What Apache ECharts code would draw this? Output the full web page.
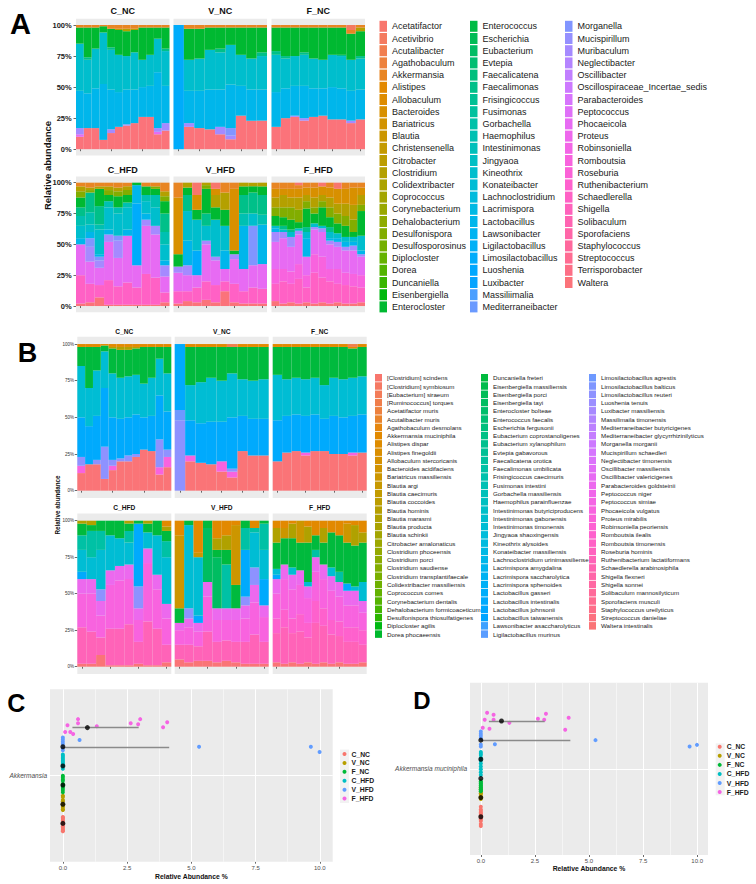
<!DOCTYPE html>
<html>
<head>
    <meta charset="utf-8">
    <title>Gut microbiota composition and Akkermansia abundance</title>
    <script src="https://cdn.jsdelivr.net/npm/echarts@6.0.0/dist/echarts.min.js"></script>
    <style>
        html, body { margin: 0; padding: 0; background: #fff; }
    </style>
</head>
<body>
    <div id="main" style="width: 756px; height: 884px;"></div>
    <script>
        var FONT = '"Liberation Sans", Arial, sans-serif';

        // ---- categories ----
        var groups = ['C_NC', 'V_NC', 'F_NC', 'C_HFD', 'V_HFD', 'F_HFD'];

        var taxaA = ['Acetatifactor', 'Acetivibrio', 'Acutalibacter', 'Agathobaculum', 'Akkermansia', 'Alistipes',
            'Allobaculum', 'Bacteroides', 'Bariatricus', 'Blautia', 'Christensenella', 'Citrobacter', 'Clostridium',
            'Colidextribacter', 'Coprococcus', 'Corynebacterium', 'Dehalobacterium', 'Desulfonispora',
            'Desulfosporosinus', 'Diplocloster', 'Dorea', 'Duncaniella', 'Eisenbergiella', 'Enterocloster',
            'Enterococcus', 'Escherichia', 'Eubacterium', 'Evtepia', 'Faecalicatena', 'Faecalimonas', 'Frisingicoccus',
            'Fusimonas', 'Gorbachella', 'Haemophilus', 'Intestinimonas', 'Jingyaoa', 'Kineothrix', 'Konateibacter',
            'Lachnoclostridium', 'Lacrimispora', 'Lactobacillus', 'Lawsonibacter', 'Ligilactobacillus',
            'Limosilactobacillus', 'Luoshenia', 'Luxibacter', 'Massiliimalia', 'Mediterraneibacter',
            'Morganella', 'Mucispirillum', 'Muribaculum', 'Neglectibacter', 'Oscillibacter',
            'Oscillospiraceae_Incertae_sedis', 'Parabacteroides', 'Peptococcus', 'Phocaeicola', 'Proteus',
            'Robinsoniella', 'Romboutsia', 'Roseburia', 'Ruthenibacterium', 'Schaedlerella', 'Shigella',
            'Solibaculum', 'Sporofaciens', 'Staphylococcus', 'Streptococcus', 'Terrisporobacter', 'Waltera'];

        var taxaB = ['[Clostridium] scindens', '[Clostridium] symbiosum', '[Eubacterium] siraeum',
            '[Ruminococcus] torques', 'Acetatifactor muris', 'Acutalibacter muris', 'Agathobaculum desmolans',
            'Akkermansia muciniphila', 'Alistipes dispar', 'Alistipes finegoldii', 'Allobaculum stercoricanis',
            'Bacteroides acidifaciens', 'Bariatricus massiliensis', 'Blautia argi', 'Blautia caecimuris',
            'Blautia coccoides', 'Blautia hominis', 'Blautia marasmi', 'Blautia producta', 'Blautia schinkii',
            'Citrobacter amalonaticus', 'Clostridium phoceensis', 'Clostridium porci', 'Clostridium saudiense',
            'Clostridium transplantifaecale', 'Colidextribacter massiliensis', 'Coprococcus comes',
            'Corynebacterium dentalis', 'Dehalobacterium formicoaceticum', 'Desulfonispora thiosulfatigenes',
            'Diplocloster agilis', 'Dorea phocaeensis',
            'Duncaniella freteri', 'Eisenbergiella massiliensis', 'Eisenbergiella porci', 'Eisenbergiella tayi',
            'Enterocloster bolteae', 'Enterococcus faecalis', 'Escherichia fergusonii',
            'Eubacterium coprostanoligenes', 'Eubacterium xylanophilum', 'Evtepia gabavorous',
            'Faecalicatena orotica', 'Faecalimonas umbilicata', 'Frisingicoccus caecimuris', 'Fusimonas intestini',
            'Gorbachella massiliensis', 'Haemophilus parainfluenzae', 'Intestinimonas butyriciproducens',
            'Intestinimonas gabonensis', 'Intestinimonas timonensis', 'Jingyaoa shaoxingensis',
            'Kineothrix alysoides', 'Konateibacter massiliensis', 'Lachnoclostridium urinimassiliense',
            'Lacrimispora amygdalina', 'Lacrimispora saccharolytica', 'Lacrimispora sphenoides',
            'Lactobacillus gasseri', 'Lactobacillus intestinalis', 'Lactobacillus johnsonii',
            'Lactobacillus taiwanensis', 'Lawsonibacter asaccharolyticus', 'Ligilactobacillus murinus',
            'Limosilactobacillus agrestis', 'Limosilactobacillus balticus', 'Limosilactobacillus reuteri',
            'Luoshenia tenuis', 'Luxibacter massiliensis', 'Massilimaila timonensis',
            'Mediterraneibacter butyricigenes', 'Mediterraneibacter glycyrrhizinilyticus', 'Morganella morganii',
            'Mucispirillum schaedleri', 'Neglectibacter timonensis', 'Oscillibacter massiliensis',
            'Oscillibacter valericigenes', 'Parabacteroides goldsteinii', 'Peptococcus niger', 'Peptococcus simiae',
            'Phocaeicola vulgatus', 'Proteus mirabilis', 'Robinsoniella peoriensis', 'Romboutsia ilealis',
            'Romboutsia timonensis', 'Roseburia hominis', 'Ruthenibacterium lactatiformans',
            'Schaedlerella arabinosiphila', 'Shigella flexneri', 'Shigella sonnei', 'Solibaculum mannosilyticum',
            'Sporofaciens musculi', 'Staphylococcus ureilyticus', 'Streptococcus danieliae', 'Waltera intestinalis'];

        // ---- panel A: genus level, % per sample (main taxa only) ----
        var genusC_NC = [
            ['Waltera', [10, 17, 17, 7.5, 13, 18, 19, 21, 26, 26, 12, 15]],
            ['Phocaeicola', [2, 0, 0, 0, 0, 0, 0, 0, 0, 0, 2, 0]],
            ['Muribaculum', [5, 0, 0, 0, 3, 0, 1, 0, 0, 0, 3, 6]],
            ['Lactobacillus', [30, 28, 32, 45, 32, 28, 28, 27, 24, 25, 45, 30]],
            ['Kineothrix', [38, 27, 32, 41.5, 32, 30, 27, 30, 22, 25, 27, 28]],
            ['Faecalimonas', [0, 2, 0, 0, 2, 0, 0, 0, 0, 0, 0, 2]],
            ['Enterocloster', [13, 24, 17, 5, 15, 20, 20, 18, 26, 22, 9, 17]],
            ['Clostridium', [0, 0, 0, 0, 0, 1, 2, 1, 0, 0, 0, 0]],
            ['Akkermansia', [2, 2, 2, 1, 3, 3, 3, 3, 2, 2, 2, 2]]
        ];
        var genusV_NC = [
            ['Waltera', [0, 18, 17, 16, 12, 8, 27, 23, 23]],
            ['Muribaculum', [0, 3, 0, 0, 6, 3, 0, 0, 0]],
            ['Morganella', [0, 0, 0, 0, 0, 6, 0, 0, 0]],
            ['Limosilactobacillus', [100, 0, 0, 0, 0, 0, 0, 0, 0]],
            ['Lactobacillus', [0, 26, 30, 32, 30, 35, 24, 25, 25]],
            ['Kineothrix', [0, 25, 26, 32, 30, 32, 25, 25, 27]],
            ['Faecalimonas', [0, 0, 0, 0, 3, 0, 0, 0, 3]],
            ['Enterocloster', [0, 25, 24, 18, 17, 14, 22, 25, 20]],
            ['Akkermansia', [0, 3, 3, 2, 2, 2, 2, 2, 2]]
        ];
        var genusF_NC = [
            ['Waltera', [18, 25, 26, 23, 26, 27, 24, 24, 21, 24]],
            ['Muribaculum', [0, 0, 1, 2, 0, 0, 0, 0, 2, 0]],
            ['Lactobacillus', [28, 24, 24, 26, 23, 22, 26, 25, 24, 24]],
            ['Kineothrix', [30, 24, 24, 25, 24, 23, 26, 26, 25, 25]],
            ['Faecalimonas', [3, 2, 0, 2, 0, 0, 0, 1, 0, 2]],
            ['Enterocloster', [19, 23, 23, 20, 25, 26, 22, 22, 21, 20]],
            ['Clostridium', [0, 0, 0, 0, 0, 0, 0, 0, 0, 3]],
            ['Akkermansia', [2, 2, 2, 2, 2, 2, 2, 2, 3, 2]],
            ['Acetivibrio', [0, 0, 0, 0, 0, 0, 0, 0, 4, 0]]
        ];
        var genusC_HFD = [
            ['Waltera', [2, 3, 7, 1, 1, 1, 1, 1, 1, 3]],
            ['Schaedlerella', [23, 15, 10, 20, 15, 18, 14, 25, 22, 8]],
            ['Phocaeicola', [25, 18, 14, 31, 23, 38, 18, 39, 35, 13]],
            ['Muribaculum', [0, 12, 6, 6, 14, 0, 0, 5, 7, 9]],
            ['Morganella', [0, 7, 3, 0, 4, 0, 0, 0, 0, 0]],
            ['Limosilactobacillus', [0, 0, 0, 0, 0, 0, 50, 0, 0, 0]],
            ['Lactobacillus', [5, 5, 2, 4, 0, 5, 15, 5, 0, 4]],
            ['Kineothrix', [10, 6, 20, 18, 18, 18, 0, 10, 15, 13]],
            ['Haemophilus', [8, 10, 4, 5, 5, 4, 0, 5, 10, 10]],
            ['Faecalimonas', [7, 16, 15, 0, 0, 0, 0, 0, 0, 15]],
            ['Enterocloster', [8, 0, 14, 5, 9, 6, 2, 7, 5, 10]],
            ['Desulfonispora', [5, 2, 0, 4, 4, 4, 0, 0, 2, 4]],
            ['Clostridium', [4, 2, 2, 3, 3, 3, 0, 0, 0, 4]],
            ['Akkermansia', [3, 4, 3, 3, 4, 3, 0, 3, 3, 7]]
        ];
        var genusV_HFD = [
            ['Waltera', [2, 4, 3, 5, 3, 12, 3, 2, 2, 2]],
            ['Schaedlerella', [10, 8, 12, 15, 14, 8, 15, 10, 13, 12]],
            ['Phocaeicola', [15, 13, 10, 30, 20, 10, 20, 18, 18, 20]],
            ['Muribaculum', [5, 8, 0, 3, 3, 0, 4, 0, 0, 0]],
            ['Morganella', [0, 0, 0, 0, 0, 0, 0, 0, 32, 0]],
            ['Limosilactobacillus', [0, 0, 20, 0, 0, 0, 0, 0, 0, 0]],
            ['Lactobacillus', [0, 20, 0, 0, 0, 15, 0, 35, 0, 32]],
            ['Kineothrix', [0, 24, 25, 12, 30, 20, 0, 0, 10, 0]],
            ['Haemophilus', [0, 0, 0, 0, 0, 0, 0, 10, 0, 8]],
            ['Faecalimonas', [0, 13, 0, 10, 0, 0, 0, 15, 17, 16]],
            ['Enterocloster', [10, 6, 8, 20, 10, 13, 3, 7, 5, 7]],
            ['Desulfonispora', [0, 0, 0, 3, 0, 0, 0, 0, 0, 0]],
            ['Clostridium', [0, 4, 0, 2, 10, 14, 0, 3, 3, 3]],
            ['Bacteroides', [46, 0, 12, 0, 5, 0, 50, 0, 0, 0]],
            ['Akkermansia', [12, 0, 0, 0, 0, 8, 5, 0, 0, 0]],
            ['Acetatifactor', [0, 0, 10, 0, 5, 0, 0, 0, 0, 0]]
        ];
        var genusF_HFD = [
            ['Waltera', [4, 2, 3, 2, 3, 2, 3, 2, 3, 2, 2, 3]],
            ['Schaedlerella', [14, 18, 15, 20, 12, 25, 20, 18, 15, 15, 14, 12]],
            ['Romboutsia', [12, 10, 10, 12, 10, 15, 17, 10, 12, 10, 10, 10]],
            ['Phocaeicola', [22, 25, 20, 24, 15, 20, 20, 20, 18, 18, 19, 15]],
            ['Muribaculum', [8, 5, 8, 3, 0, 2, 3, 3, 4, 3, 4, 2]],
            ['Lactobacillus', [3, 0, 0, 0, 15, 0, 0, 2, 3, 4, 3, 3]],
            ['Kineothrix', [2, 2, 4, 2, 5, 3, 2, 5, 4, 4, 4, 12]],
            ['Faecalimonas', [0, 3, 2, 0, 4, 0, 0, 4, 0, 0, 0, 0]],
            ['Enterocloster', [8, 7, 8, 5, 15, 8, 15, 8, 8, 9, 4, 20]],
            ['Desulfonispora', [7, 8, 10, 10, 6, 5, 5, 8, 8, 8, 10, 5]],
            ['Clostridium', [8, 10, 8, 10, 5, 8, 5, 8, 8, 10, 12, 8]],
            ['Bacteroides', [7, 5, 7, 7, 6, 8, 7, 8, 12, 12, 14, 6]],
            ['Akkermansia', [5, 5, 5, 3, 4, 4, 0, 4, 0, 5, 4, 4]],
            ['Acetatifactor', [0, 0, 0, 2, 0, 0, 3, 0, 5, 0, 0, 0]]
        ];

        // ---- panel B: species level ----
        var speciesC_NC = [
            ['Waltera intestinalis', [12, 18, 18, 8, 14, 20, 20, 23, 28, 27, 11, 16]],
            ['Phocaeicola vulgatus', [5, 0, 0, 0, 3, 0, 0, 0, 0, 0, 5, 7]],
            ['Limosilactobacillus reuteri', [6, 0, 3, 22, 4, 2, 4, 2, 0, 0, 19, 5]],
            ['Lactobacillus intestinalis', [27, 26, 30, 40, 29, 27, 26, 27, 22, 24, 30, 26]],
            ['Intestinimonas timonensis', [35, 26, 31, 25, 30, 28, 28, 27, 23, 26, 25, 26]],
            ['Duncaniella freteri', [13, 28, 16, 4, 17, 19, 18, 18, 25, 21, 8, 18]],
            ['Blautia marasmi', [0, 0, 0, 0, 1, 2, 2, 1, 0, 0, 0, 0]],
            ['Akkermansia muciniphila', [2, 2, 2, 1, 2, 2, 2, 2, 2, 2, 2, 2]]
        ];
        var speciesV_NC = [
            ['Waltera intestinalis', [0, 20, 19, 18, 13, 9, 27, 24, 24]],
            ['Phocaeicola vulgatus', [0, 4, 0, 0, 7, 4, 0, 0, 0]],
            ['Limosilactobacillus reuteri', [48, 0, 0, 0, 0, 2, 0, 0, 0]],
            ['Limosilactobacillus agrestis', [7, 0, 0, 0, 0, 0, 0, 0, 0]],
            ['Lactobacillus intestinalis', [45, 24, 27, 29, 27, 35, 24, 25, 25]],
            ['Intestinimonas timonensis', [0, 24, 28, 30, 28, 30, 25, 26, 27]],
            ['Duncaniella freteri', [0, 26, 24, 21, 23, 18, 22, 23, 22]],
            ['Akkermansia muciniphila', [0, 2, 2, 2, 2, 0, 2, 2, 2]],
            ['[Ruminococcus] torques', [0, 0, 0, 0, 0, 2, 0, 0, 0]]
        ];
        var speciesF_NC = [
            ['Waltera intestinalis', [20, 26, 27, 24, 27, 27, 25, 25, 24, 26]],
            ['Phocaeicola vulgatus', [0, 0, 0, 2, 0, 0, 0, 0, 2, 0]],
            ['Lactobacillus intestinalis', [28, 25, 25, 25, 25, 22, 26, 25, 25, 26]],
            ['Intestinimonas timonensis', [31, 25, 25, 25, 25, 23, 26, 26, 26, 26]],
            ['Duncaniella freteri', [19, 22, 21, 22, 21, 26, 21, 22, 20, 20]],
            ['Akkermansia muciniphila', [2, 2, 2, 2, 2, 2, 2, 2, 1, 2]],
            ['[Ruminococcus] torques', [0, 0, 0, 0, 0, 0, 0, 0, 2, 0]]
        ];
        var speciesC_HFD = [
            ['Waltera intestinalis', [2, 2, 8, 1, 1, 1, 2, 1, 1, 3]],
            ['Ruthenibacterium lactatiformans', [25, 22, 12, 25, 25, 28, 15, 30, 25, 12]],
            ['Phocaeicola vulgatus', [23, 26, 15, 30, 33, 31, 15, 40, 27, 18]],
            ['Parabacteroides goldsteinii', [10, 10, 10, 10, 10, 10, 8, 10, 10, 10]],
            ['Limosilactobacillus reuteri', [0, 0, 8, 0, 0, 0, 15, 0, 0, 0]],
            ['Lactobacillus intestinalis', [5, 0, 0, 0, 0, 0, 43, 0, 0, 0]],
            ['Intestinimonas timonensis', [15, 15, 27, 24, 19, 15, 0, 11, 27, 32]],
            ['Faecalimonas umbilicata', [10, 18, 13, 0, 0, 8, 0, 0, 0, 11]],
            ['Duncaniella freteri', [8, 4, 7, 10, 12, 5, 2, 6, 10, 7]],
            ['Blautia marasmi', [2, 3, 0, 0, 0, 2, 0, 2, 0, 3]],
            ['Akkermansia muciniphila', [0, 0, 0, 0, 0, 0, 0, 0, 0, 4]]
        ];
        var speciesV_HFD = [
            ['Waltera intestinalis', [5, 3, 4, 4, 3, 4, 3, 2, 2, 2]],
            ['Ruthenibacterium lactatiformans', [10, 12, 10, 20, 14, 14, 14, 15, 20, 15]],
            ['Phocaeicola vulgatus', [10, 12, 10, 24, 15, 14, 15, 16, 22, 17]],
            ['Parabacteroides goldsteinii', [5, 6, 6, 10, 8, 8, 8, 9, 12, 8]],
            ['Limosilactobacillus reuteri', [0, 7, 0, 0, 0, 0, 0, 6, 12, 0]],
            ['Lactobacillus intestinalis', [0, 0, 5, 0, 0, 0, 0, 32, 0, 18]],
            ['Intestinimonas timonensis', [0, 57, 40, 0, 0, 0, 0, 0, 24, 20]],
            ['Faecalimonas umbilicata', [0, 0, 0, 0, 0, 30, 0, 15, 3, 18]],
            ['Eisenbergiella tayi', [0, 0, 0, 37, 35, 0, 0, 0, 0, 0]],
            ['Duncaniella freteri', [10, 3, 0, 5, 5, 10, 16, 5, 0, 2]],
            ['Blautia marasmi', [0, 0, 0, 0, 8, 10, 0, 0, 0, 0]],
            ['Bariatricus massiliensis', [50, 0, 3, 0, 0, 0, 41, 0, 0, 0]],
            ['Akkermansia muciniphila', [10, 0, 22, 0, 12, 10, 3, 0, 5, 0]]
        ];
        var speciesF_HFD = [
            ['Waltera intestinalis', [3, 2, 3, 2, 3, 2, 3, 2, 3, 2, 2, 3]],
            ['Ruthenibacterium lactatiformans', [20, 25, 20, 22, 17, 28, 25, 20, 18, 15, 15, 12]],
            ['Romboutsia ilealis', [10, 12, 10, 12, 10, 15, 12, 10, 10, 10, 10, 10]],
            ['Phocaeicola vulgatus', [17, 21, 20, 20, 17, 20, 20, 20, 17, 15, 15, 12]],
            ['Parabacteroides goldsteinii', [10, 10, 10, 10, 8, 10, 10, 10, 10, 10, 10, 8]],
            ['Lactobacillus intestinalis', [3, 0, 0, 0, 0, 0, 0, 0, 0, 5, 0, 0]],
            ['Intestinimonas timonensis', [4, 0, 5, 0, 3, 0, 0, 6, 0, 0, 3, 13]],
            ['Faecalimonas umbilicata', [0, 0, 0, 0, 0, 5, 0, 0, 7, 0, 0, 0]],
            ['Duncaniella freteri', [18, 18, 20, 19, 27, 10, 15, 24, 25, 28, 28, 27]],
            ['Blautia marasmi', [10, 0, 10, 0, 11, 0, 10, 0, 0, 0, 14, 7]],
            ['Bariatricus massiliensis', [0, 7, 0, 15, 0, 0, 0, 0, 0, 13, 0, 0]],
            ['Akkermansia muciniphila', [5, 5, 2, 0, 4, 10, 5, 8, 10, 2, 3, 8]]
        ];

        // ---- panels C / D: Akkermansia relative abundance (%) per sample ----
        var akkC_NC = [0, 0, 0, 0, 0, 0, 0, 0, 0, 0, 0, 0];
        var akkV_NC = [0, 0, 0, 0, 0, 0, 0, 0, 0];
        var akkF_NC = [0, 0, 0, 0, 0, 0, 0, 0, 0, 0];
        var akkC_HFD = [0, 0, 0, 0, 0, 0, 0, 0, 0, 0];
        var akkV_HFD = [0, 0, 0, 0, 0, 0, 0.65, 5.3, 9.65, 9.99];
        var akkF_HFD = [0.18, 0.59, 0.59, 0.09, 0.29, 0.40, 1.32, 2.64, 2.93, 3.01, 3.90, 4.06];
        // vertical jitter of each point as drawn (category units)
        var jitterC = [
            [0.04, 0.02, -0.01, -0.03, 0.0, -0.05, 0.03, -0.02, 0.01, -0.04, 0.045, -0.055],
            [0.06, 0.03, -0.02, 0.0, -0.04, 0.05, -0.01, 0.02, -0.035],
            [0.065, 0.04, 0.01, -0.02, -0.05, 0.03, -0.01, 0.055, -0.035, 0.0],
            [0.08, 0.06, 0.04, 0.02, 0.07, 0.03, 0.0, 0.05, -0.02, 0.01],
            [0.065, 0.05, 0.035, 0.02, -0.01, -0.025, 0.047, 0, 0, -0.037],
            [0.017, 0.059, 0.031, -0.031, -0.031, -0.045, 0.010, 0.031, 0.024, 0.059, 0.003, 0.038]
        ];
        var jitterD = [
            [0.07, 0.05, 0.03, 0.01, -0.01, -0.03, -0.05, -0.065, 0.04, -0.02, 0.02, 0.0],
            [0.07, 0.055, 0.04, 0.025, 0.01, -0.01, 0.06, 0.03, 0.0],
            [-0.03, -0.045, -0.06, -0.075, -0.09, -0.035, -0.05, -0.065, -0.08, -0.02],
            [0.05, 0.03, 0.01, -0.01, -0.03, -0.05, -0.07, -0.09, 0.04, -0.11],
            [0.06, 0.045, 0.03, 0.015, -0.03, -0.045, -0.028, 0, -0.045, -0.033],
            [0.008, 0.043, 0.008, -0.047, 0.057, -0.054, -0.013, 0.015, 0.008, 0.050, -0.061, 0.022]
        ];
        var xBreaks = [0, 2.5, 5, 7.5, 10];
        var xMinorBreaks = [1.25, 3.75, 6.25, 8.75];
        var yBreaks = [0, 25, 50, 75, 100];
        var yLabelC = 'Akkermansia';
        var yLabelD = 'Akkermansia muciniphila';

        // ggplot-like hue palette (hcl, c = 100, l = 65)
        function hcl(h, c, l) {
            var WX = 95.047, WY = 100, WZ = 108.883;
            var den = WX + 15 * WY + 3 * WZ;
            var un = 4 * WX / den, vn = 9 * WY / den;
            var hr = h * Math.PI / 180;
            var U = c * Math.cos(hr), V = c * Math.sin(hr);
            var Y = WY * (l > 7.999592 ? Math.pow((l + 16) / 116, 3) : l / 903.3);
            var u = U / (13 * l) + un, v = V / (13 * l) + vn;
            var X = 9 * Y * u / (4 * v);
            var Z = -X / 3 - 5 * Y + 3 * Y / v;
            function g(t) { return t > 0.00304 ? 1.055 * Math.pow(t, 1 / 2.4) - 0.055 : 12.92 * t; }
            var rgb = [
                g((3.240479 * X - 1.537150 * Y - 0.498535 * Z) / WY),
                g((-0.969256 * X + 1.875992 * Y + 0.041556 * Z) / WY),
                g((0.055648 * X - 0.204043 * Y + 1.057311 * Z) / WY)
            ];
            return 'rgb(' + rgb.map(function (x) { return Math.round(Math.max(0, Math.min(1, x)) * 255); }).join(',') + ')';
        }
        function huePal(n) {
            var out = [];
            for (var i = 0; i < n; i++) out.push(hcl(15 + 360 * i / n, 100, 65));
            return out;
        }
        function quantile(arr, p) {
            var s = arr.slice().sort(function (a, b) { return a - b; });
            var h = (s.length - 1) * p, lo = Math.floor(h);
            var hi = Math.min(lo + 1, s.length - 1);
            return s[lo] + (h - lo) * (s[hi] - s[lo]);
        }

        var colA = huePal(taxaA.length);
        var colB = huePal(taxaB.length);
        var colG = huePal(groups.length);

        var grids = [], xAxes = [], yAxes = [], series = [];
        var BAR_GAP = '0%';

        // shared y axis in facets: labels only on the first column
        function addBarGrid(left, top, w, h, n, small, firstCol) {
            var gi = grids.length;
            grids.push({ left: left, top: top, width: w, height: h, show: true, backgroundColor: '#EBEBEB', borderWidth: 0, outerBoundsMode: 'none' });
            var cats = [];
            for (var i = 0; i < n; i++) cats.push('S' + (i + 1));
            xAxes.push({
                type: 'category', gridIndex: gi, data: cats,
                axisLine: { show: false },
                axisTick: { show: true, alignWithLabel: true, length: 2, lineStyle: { color: '#444', width: 0.8 } },
                axisLabel: { show: false },
                splitLine: { show: false }
            });
            yAxes.push({
                type: 'value', gridIndex: gi, min: -5, max: 105,
                axisLine: { show: false },
                splitLine: { show: false },
                axisTick: { show: firstCol, customValues: yBreaks, length: 2.5, lineStyle: { color: '#444', width: 0.8 } },
                axisLabel: {
                    show: firstCol,
                    customValues: yBreaks,
                    formatter: function (v) { return v + '%'; },
                    fontSize: small ? 4.5 : 7.5,
                    fontWeight: small ? 'normal' : 'bold',
                    color: small ? '#333' : '#222',
                    margin: small ? 3.3 : 4.3,
                    fontFamily: FONT
                }
            });
            return gi;
        }

        function addStack(rows, names, cols, gi) {
            var n = rows[0][1].length;
            var tot = [];
            for (var i = 0; i < n; i++) {
                tot.push(rows.reduce(function (s, r) { return s + r[1][i]; }, 0));
            }
            // highest factor level at the bottom, like position_fill
            rows.slice().sort(function (a, b) { return names.indexOf(b[0]) - names.indexOf(a[0]); }).forEach(function (r) {
                series.push({
                    type: 'bar', name: r[0], stack: 's' + gi, xAxisIndex: gi, yAxisIndex: gi,
                    barCategoryGap: BAR_GAP, silent: true,
                    itemStyle: { color: cols[names.indexOf(r[0])] },
                    data: r[1].map(function (v, i) { return v / tot[i] * 100; })
                });
            });
        }

        function addLegendEntries(names, cols, gi) {
            names.forEach(function (nm, i) {
                series.push({ type: 'bar', name: nm, stack: 's' + gi, xAxisIndex: gi, yAxisIndex: gi, barCategoryGap: BAR_GAP, itemStyle: { color: cols[i] }, data: [] });
            });
        }

        // panel A grids
        var genusFacets = [genusC_NC, genusV_NC, genusF_NC, genusC_HFD, genusV_HFD, genusF_HFD];
        var aLefts = [76, 173.5, 271.5], aTops = [18.8, 176.5], aHeights = [136.6, 135.7];
        genusFacets.forEach(function (rows, k) {
            var gi = addBarGrid(aLefts[k % 3], aTops[Math.floor(k / 3)], 93.5, aHeights[Math.floor(k / 3)], rows[0][1].length, false, k % 3 === 0);
            addStack(rows, taxaA, colA, gi);
        });
        addLegendEntries(taxaA, colA, 0);

        // panel B grids
        var speciesFacets = [speciesC_NC, speciesV_NC, speciesF_NC, speciesC_HFD, speciesV_HFD, speciesF_HFD];
        var bLefts = [77.3, 174.7, 272.7], bTops = [336.7, 513.4], bHeights = [161.3, 160.6];
        speciesFacets.forEach(function (rows, k) {
            var gi = addBarGrid(bLefts[k % 3], bTops[Math.floor(k / 3)], 94, bHeights[Math.floor(k / 3)], rows[0][1].length, true, k % 3 === 0);
            addStack(rows, taxaB, colB, gi);
        });
        addLegendEntries(taxaB, colB, 6);

        // panels C and D
        var akkAbund = [akkC_NC, akkV_NC, akkF_NC, akkC_HFD, akkV_HFD, akkF_HFD];

        function addStripGrid(left, top, w, h, label) {
            var gi = grids.length;
            grids.push({ left: left, top: top, width: w, height: h, show: true, backgroundColor: '#EBEBEB', borderWidth: 0, outerBoundsMode: 'none' });
            xAxes.push({
                type: 'value', gridIndex: gi, min: -0.5, max: 10.5,
                axisLine: { show: false }, splitLine: { show: false },
                axisTick: { show: true, customValues: xBreaks, length: 2, lineStyle: { color: '#444', width: 0.8 } },
                axisLabel: { customValues: xBreaks, formatter: function (v) { return v.toFixed(1); }, fontSize: 6, color: '#4D4D4D', margin: 3, fontFamily: FONT }
            });
            yAxes.push({
                type: 'value', gridIndex: gi, min: 0.4, max: 1.6,
                axisLine: { show: false }, splitLine: { show: false },
                axisTick: { show: true, customValues: [1], length: 2, lineStyle: { color: '#444', width: 0.8 } },
                axisLabel: { customValues: [1], formatter: function () { return label; }, fontSize: 6.5, fontStyle: 'italic', color: '#4D4D4D', margin: 3, fontFamily: FONT }
            });
            // panel grid lines
            series.push({
                type: 'scatter', xAxisIndex: gi, yAxisIndex: gi, data: [], silent: true, z: 1,
                markLine: { silent: true, symbol: 'none', z: 1, label: { show: false }, animation: false,
                    lineStyle: { color: '#fff', width: 1, type: 'solid' },
                    data: xBreaks.map(function (v) { return { xAxis: v }; }).concat([{ yAxis: 1 }]) }
            });
            series.push({
                type: 'scatter', xAxisIndex: gi, yAxisIndex: gi, data: [], silent: true, z: 1,
                markLine: { silent: true, symbol: 'none', z: 1, label: { show: false }, animation: false,
                    lineStyle: { color: '#fff', width: 0.5, type: 'solid' },
                    data: xMinorBreaks.map(function (v) { return { xAxis: v }; }) }
            });
            return gi;
        }

        function addGroupPoints(gi, jitter) {
            var med = [], lines = [];
            groups.forEach(function (g, k) {
                var yc = 1 + (k - (groups.length - 1) / 2) * 0.8 / groups.length;
                var vals = akkAbund[k];
                series.push({
                    type: 'scatter', name: g, xAxisIndex: gi, yAxisIndex: gi, z: 3, symbolSize: 4, silent: true,
                    itemStyle: { color: colG[k], opacity: 1 },
                    data: vals.map(function (v, i) { return [v, yc + jitter[k][i]]; })
                });
                var q1 = quantile(vals, 0.25), q2 = quantile(vals, 0.5), q3 = quantile(vals, 0.75);
                med.push([q2, yc]);
                if (q3 > q1) lines.push([{ coord: [q1, yc] }, { coord: [q3, yc] }]);
            });
            series.push({
                type: 'scatter', xAxisIndex: gi, yAxisIndex: gi, z: 5, symbolSize: 5, silent: true,
                itemStyle: { color: '#000' }, data: med,
                markLine: { silent: true, symbol: 'none', z: 4, label: { show: false }, animation: false,
                    lineStyle: { color: '#8a8a8a', width: 1.3, type: 'solid' }, data: lines }
            });
        }

        var giC = addStripGrid(50, 689.3, 282.7, 172.4, yLabelC);
        addGroupPoints(giC, jitterC);
        var giD = addStripGrid(470, 682.7, 238, 172.3, yLabelD);
        addGroupPoints(giD, jitterD);

        function legendCol(names, left, top, o) {
            return {
                orient: 'vertical', left: left, top: top, padding: 0, itemGap: 0,
                itemWidth: o.w, itemHeight: o.h, icon: o.icon || 'rect', selectedMode: false,
                textStyle: { fontSize: o.fs, lineHeight: o.lh, color: '#1a1a1a', fontFamily: FONT, fontWeight: o.bold ? 'bold' : 'normal' },
                data: names
            };
        }
        var legends = [
            legendCol(taxaA.slice(0, 24), 379.5, 20.2, { w: 7.5, h: 11, fs: 9, lh: 12.2 }),
            legendCol(taxaA.slice(24, 48), 470, 20.2, { w: 7.5, h: 11, fs: 9, lh: 12.2 }),
            legendCol(taxaA.slice(48), 565, 20.2, { w: 7.5, h: 11, fs: 9, lh: 12.2 }),
            legendCol(taxaB.slice(0, 32), 375, 373.6, { w: 7, h: 7.5, fs: 6.2, lh: 8.27 }),
            legendCol(taxaB.slice(32, 64), 481, 373.6, { w: 7, h: 7.5, fs: 6.2, lh: 8.27 }),
            legendCol(taxaB.slice(64), 589, 373.6, { w: 7, h: 7.5, fs: 6.2, lh: 8.27 }),
            legendCol(groups, 342.5, 749.6, { w: 4, h: 4, fs: 6.8, lh: 8.9, icon: 'circle', bold: true }),
            legendCol(groups, 717.7, 742.2, { w: 4, h: 4, fs: 6.8, lh: 9.07, icon: 'circle', bold: true })
        ];

        function label(text, x, y, size, opts) {
            opts = opts || {};
            return {
                type: 'text', x: x, y: y, rotation: opts.rotate || 0, silent: true, z: 10,
                style: { text: text, fill: opts.color || '#000', fontSize: size, fontWeight: opts.weight || 'bold',
                    fontFamily: FONT, align: 'center', verticalAlign: 'middle' }
            };
        }
        var graphics = [
            { type: 'rect', shape: { x: 340, y: 749.5, width: 9, height: 53.5 }, style: { fill: '#F2F2F2' }, silent: true, z: 0 },
            { type: 'rect', shape: { x: 715.7, y: 743.3, width: 9, height: 52 }, style: { fill: '#F2F2F2' }, silent: true, z: 0 },
            label('A', 20.5, 23.5, 29),
            label('B', 27.5, 353, 27),
            label('C', 16.3, 702.5, 25),
            label('D', 422, 700, 24),
            label('Relative abundance', 47, 165.5, 9.5, { rotate: Math.PI / 2, color: '#111' }),
            label('Relative abundance', 57.7, 505, 6.3, { rotate: Math.PI / 2, color: '#111' }),
            label('Relative Abundance %', 191.4, 876.2, 6.8, { color: '#111' }),
            label('Relative Abundance %', 589, 868.3, 6.8, { color: '#111' })
        ];
        groups.forEach(function (g, k) {
            var col = k % 3, row = Math.floor(k / 3);
            graphics.push(label(g, aLefts[col] + 46.75, row ? 170 : 11, 9, { color: '#111' }));
            graphics.push(label(g, bLefts[col] + 47, row ? 507.7 : 331.7, 6.6, { color: '#111' }));
        });

        var chartDom = document.getElementById('main');
        var myChart = echarts.init(chartDom, null, { renderer: 'svg', width: 756, height: 884 });
        var option = {
            animation: false,
            backgroundColor: '#fff',
            textStyle: { fontFamily: FONT },
            grid: grids,
            xAxis: xAxes,
            yAxis: yAxes,
            legend: legends,
            graphic: graphics,
            series: series
        };
        myChart.setOption(option);
    </script>
</body>
</html>
